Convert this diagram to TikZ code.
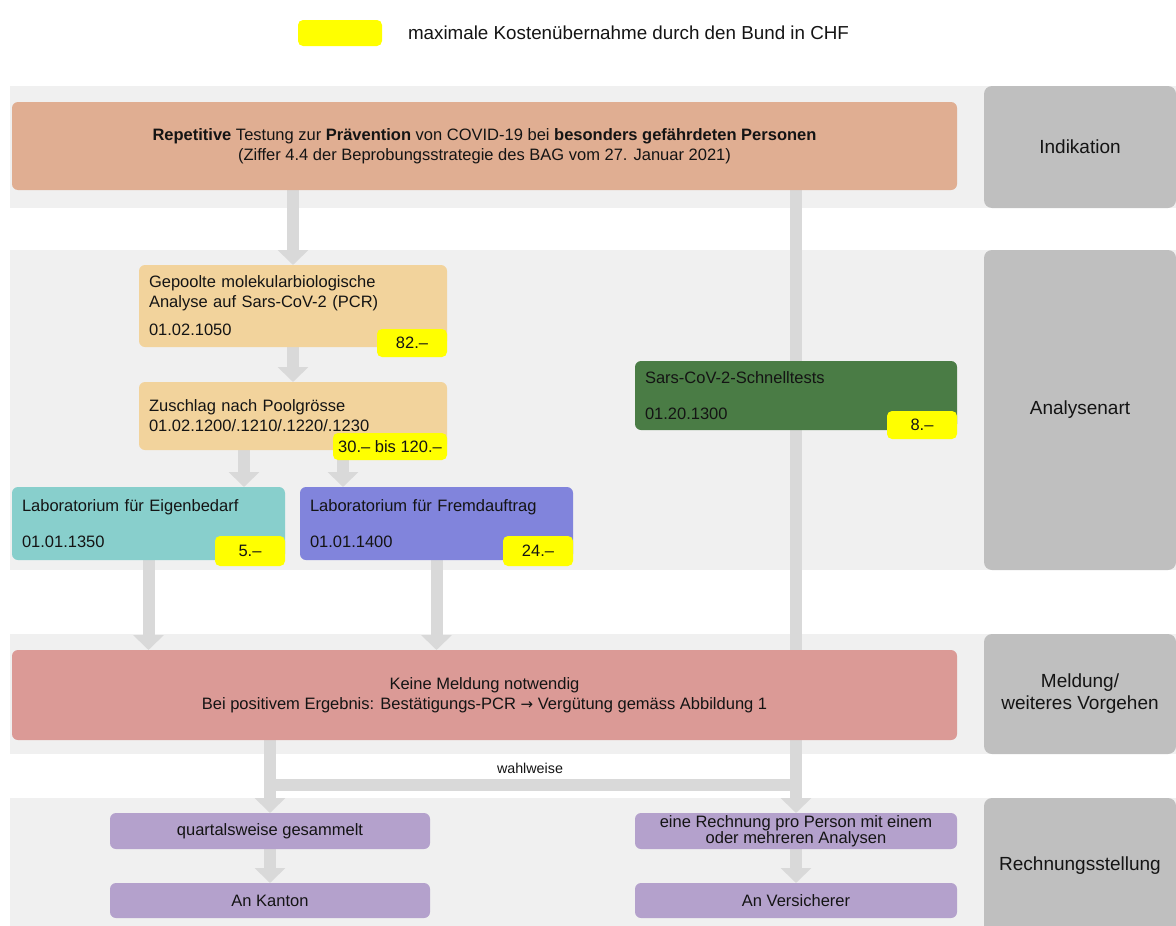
\documentclass[tikz,border=0pt]{standalone}
\usepackage{fontspec}
\setmainfont{Liberation Sans}
\usetikzlibrary{arrows.meta,backgrounds,calc}
\definecolor{bandc}{HTML}{F0F0F0}
\definecolor{labelc}{HTML}{BFBFBF}
\definecolor{indc}{HTML}{E0AE92}
\definecolor{tanc}{HTML}{F2D39C}
\definecolor{tagc}{HTML}{FFFF00}
\definecolor{tealc}{HTML}{88CFCC}
\definecolor{bluec}{HTML}{8184DC}
\definecolor{greenc}{HTML}{4A7C45}
\definecolor{pinkc}{HTML}{DB9A96}
\definecolor{purplec}{HTML}{B4A1CC}
\definecolor{connc}{HTML}{D9D9D9}
\definecolor{txtc}{HTML}{141414}
\begin{document}
\begin{tikzpicture}[x=1pt,y=-1pt,
  every node/.style={inner sep=0pt, outer sep=0pt, text=txtc},
  boxtext/.style={font=\fontsize{16.5}{20}\selectfont},
  labeltext/.style={font=\fontsize{19}{22}\selectfont},
  box/.style n args={2}{rounded corners=6pt, minimum width=#1, minimum height=#2, boxtext},
  lbox/.style n args={2}{box={#1}{#2}, inner xsep=10pt, text width=#1-20, align=left},
  cbox/.style n args={2}{box={#1}{#2}, align=center},
  graylabel/.style n args={2}{rounded corners=8pt, fill=labelc, minimum width=#1, minimum height=#2, align=center, labeltext},
  tag/.style n args={2}{rounded corners=5pt, fill=tagc, minimum width=#1, minimum height=#2, boxtext},
  conn/.style={line width=12pt, draw=connc},
  arr/.style={conn, -{Triangle[width=30pt,length=15pt]}},
]
\useasboundingbox (0,0) rectangle (1176,926);

% legend
\node[tag={84}{26}] (legbox) at (340,33) {};
\node[anchor=west, font=\fontsize{18.8}{22}\selectfont] (legtext) at (408,33) {maximale Kostenübernahme durch den Bund in CHF};

% row labels
\node[graylabel={192}{122}] (lab-ind) at (1080,147) {Indikation};
\node[graylabel={192}{320}] (lab-ana) at (1080,410) {Analysenart};
\node[graylabel={192}{120}] (lab-mel) at (1080,694) {Meldung/\\weiteres Vorgehen};
\node[graylabel={192}{136}] (lab-rech) at (1080,866) {Rechnungsstellung};

% Indikation
\node[cbox={945}{88}, fill=indc] (ind) at (484.5,146)
  {\textbf{Repetitive} Testung zur \textbf{Prävention} von COVID-19 bei \textbf{besonders gefährdeten Personen}\\(Ziffer 4.4 der Beprobungsstrategie des BAG vom 27. Januar 2021)};

% Analysenart
\node[lbox={308}{82}, fill=tanc] (gep) at (293,306)
  {Gepoolte molekularbiologische\\Analyse auf Sars-CoV-2 (PCR)\\[8pt]01.02.1050};
\node[tag={70}{28}] (t82) at (412,343) {82.–};
\node[lbox={308}{68}, fill=tanc] (zus) at (293,416)
  {Zuschlag nach Poolgrösse\\01.02.1200/.1210/.1220/.1230\\[10pt]};
\node[tag={114}{27}] (t30) at (390,446.5) {30.– bis 120.–};
\node[lbox={273}{73}, fill=tealc] (lab1) at (148.5,523.5)
  {Laboratorium für Eigenbedarf\\[16pt]01.01.1350};
\node[tag={70}{30}] (t5) at (250,551) {5.–};
\node[lbox={273}{73}, fill=bluec] (lab2) at (436.5,523.5)
  {Laboratorium für Fremdauftrag\\[16pt]01.01.1400};
\node[tag={70}{30}] (t24) at (538,551) {24.–};
\node[lbox={322}{69}, fill=greenc] (schnell) at (796,395.5)
  {Sars-CoV-2-Schnelltests\\[16pt]01.20.1300};
\node[tag={70}{28}] (t8) at (922,425) {8.–};

% Meldung
\node[cbox={945}{90}, fill=pinkc] (meld) at (484.5,695)
  {Keine Meldung notwendig\\Bei positivem Ergebnis: Bestätigungs-PCR {\fontspec{DejaVu Sans}\fontsize{15}{20}\selectfont →} Vergütung gemäss Abbildung 1};

% Rechnungsstellung
\node[cbox={320}{36}, fill=purplec] (quart) at (270,831) {quartalsweise gesammelt};
\node[cbox={320}{35}, fill=purplec] (kanton) at (270,900.5) {An Kanton};
\node[cbox={322}{36}, fill=purplec, font=\fontsize{16.5}{16}\selectfont] (einr) at (796,831) {eine Rechnung pro Person mit einem\\oder mehreren Analysen};
\node[cbox={322}{35}, fill=purplec] (vers) at (796,900.5) {An Versicherer};

\coordinate (xa) at (244,0);
\coordinate (xb) at (343,0);
\coordinate (wl) at (270,785);
\coordinate (wr) at (796,785);
\node[font=\fontsize{14.3}{16}\selectfont] (wahl) at (530,768) {wahlweise};

\begin{scope}[on background layer]
  \fill[bandc] (10,86) rectangle (1176,208);
  \fill[bandc] (10,250) rectangle (1176,570);
  \fill[bandc] (10,634) rectangle (1176,754);
  \fill[bandc] (10,798) rectangle (1176,926);
  \draw[arr] (ind.south -| gep.north) -- (gep.north);
  \draw[arr] (ind.south -| einr.north) -- (einr.north);
  \draw[arr] (gep.south) -- (zus.north);
  \draw[arr] (zus.south -| xa) -- (lab1.north -| xa);
  \draw[arr] (zus.south -| xb) -- (lab2.north -| xb);
  \draw[arr] (lab1.south) -- (lab1.south |- meld.north);
  \draw[arr] (lab2.south) -- (lab2.south |- meld.north);
  \draw[arr] (meld.south -| quart.north) -- (quart.north);
  \draw[conn] ([xshift=-6pt]wl) -- ([xshift=6pt]wr);
  \draw[arr] (quart.south) -- (kanton.north);
  \draw[arr] (einr.south) -- (vers.north);
\end{scope}
\end{tikzpicture}
\end{document}
